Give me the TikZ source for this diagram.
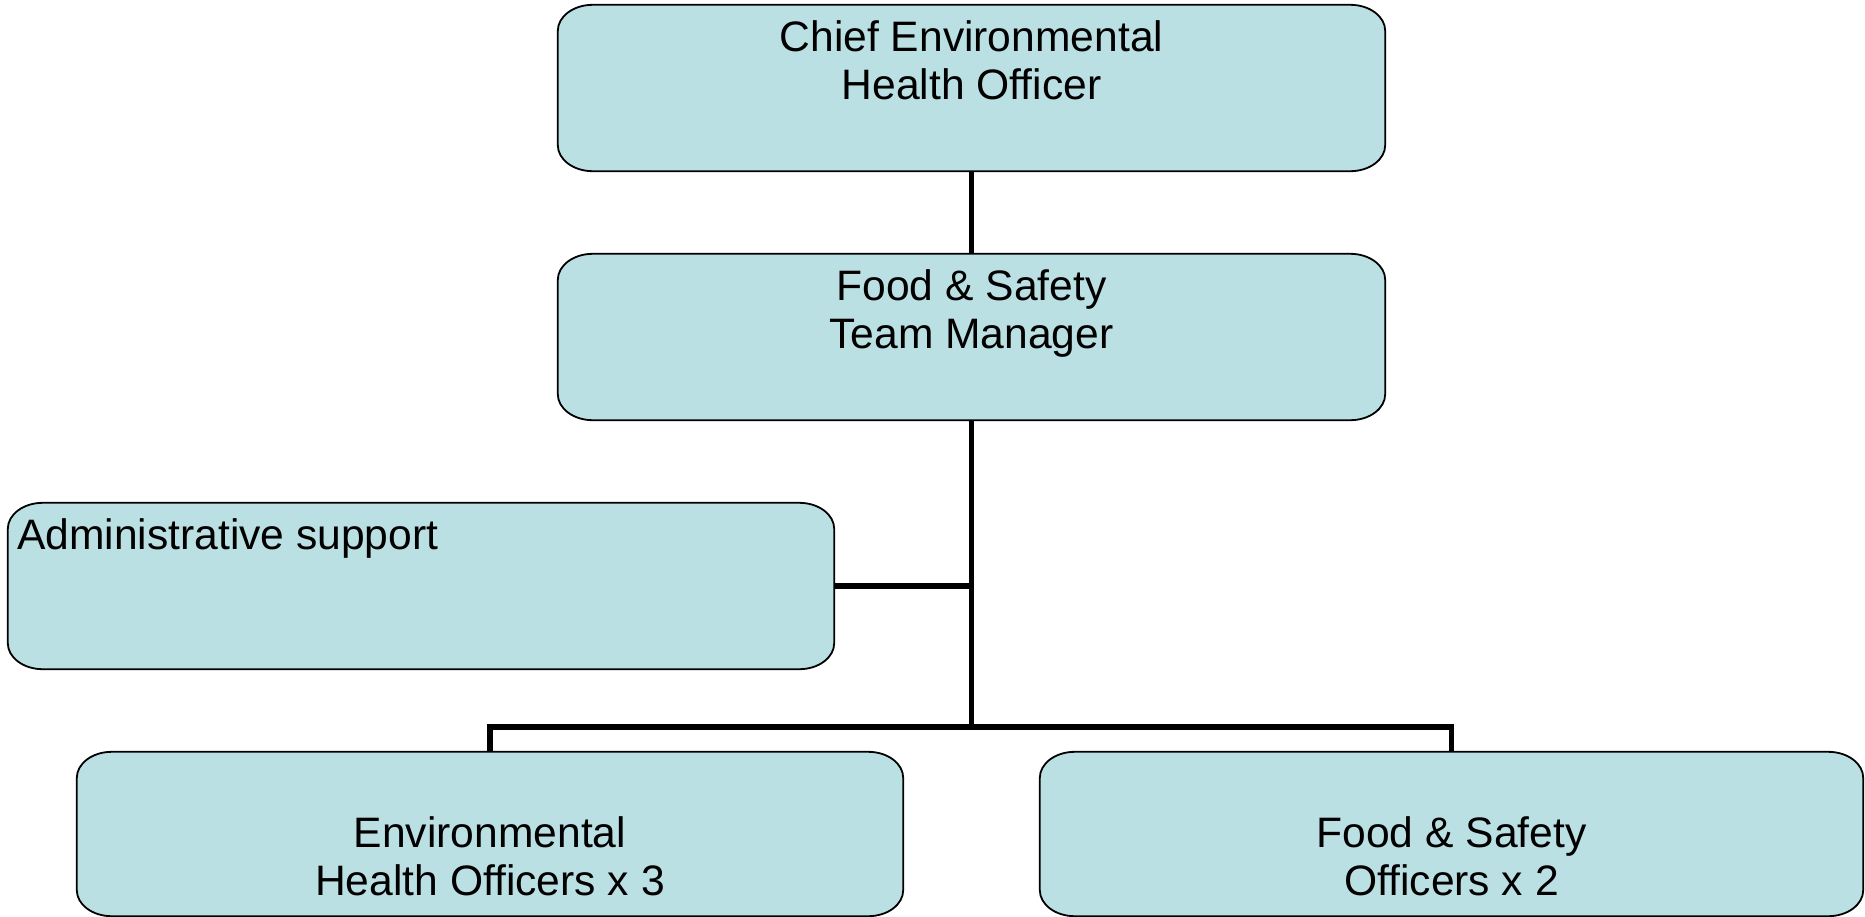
\documentclass[tikz,border=0pt]{standalone}
\usepackage{fontspec}
\setmainfont{Liberation Sans}
\definecolor{boxfill}{RGB}{187,224,227}
\newcommand\erx{35pt}
\newcommand\ery{26pt}
\newcommand\drawebox[1]{%
  \draw[boxline] ([xshift=\erx]#1.north west) -- ([xshift=-\erx]#1.north east)
    arc[start angle=90,end angle=0,x radius=\erx,y radius=\ery]
    -- ([yshift=\ery]#1.south east)
    arc[start angle=0,end angle=-90,x radius=\erx,y radius=\ery]
    -- ([xshift=\erx]#1.south west)
    arc[start angle=270,end angle=180,x radius=\erx,y radius=\ery]
    -- ([yshift=-\ery]#1.north west)
    arc[start angle=180,end angle=90,x radius=\erx,y radius=\ery] -- cycle;}
\tikzset{
  box/.style={rectangle, inner sep=0pt, draw=none},
  boxline/.style={draw=black, line width=1.8pt, fill=boxfill},
  txt/.style={inner sep=0pt, align=center, font=\fontsize{42.6pt}{47.5pt}\selectfont},
  conn/.style={draw=black, line width=5.5pt, line join=miter, line cap=butt}
}
\begin{document}
\begin{tikzpicture}[x=1pt,y=1pt]
\useasboundingbox (0,0) rectangle (1865,-916);
% boxes
\node[box, minimum width=827pt, minimum height=166pt] (chief) at (971.5,-88) {};
\node[box, minimum width=827pt, minimum height=166pt] (mgr) at (971.5,-337) {};
\node[box, minimum width=826pt, minimum height=166pt] (admin) at (421,-586) {};
\node[box, minimum width=826pt, minimum height=164pt] (eho) at (490,-834) {};
\node[box, minimum width=823pt, minimum height=164pt] (fso) at (1451.5,-834) {};
\drawebox{chief}
\drawebox{mgr}
\drawebox{admin}
\drawebox{eho}
\drawebox{fso}
% texts
\node[txt, anchor=north] (chieftxt) at ([yshift=-16pt]chief.north) {Chief Environmental\\Health Officer};
\node[txt, anchor=north] (mgrtxt) at ([yshift=-16pt]mgr.north) {Food \& Safety\\Team Manager};
\node[txt, anchor=north west, align=left] (admintxt) at ([xshift=9pt,yshift=-16pt]admin.north west) {Administrative support};
\node[txt, anchor=north] (ehotxt) at ([yshift=-65pt]eho.north) {Environmental\\Health Officers x 3};
\node[txt, anchor=north] (fsotxt) at ([yshift=-65pt]fso.north) {Food \& Safety\\Officers x 2};
% connectors
\coordinate (bus) at (971.5,-727);
\draw[conn] (chief.south) -- (mgr.north);
\draw[conn] (mgr.south) -- (bus);
\draw[conn] (admin.east) -- (admin.east -| mgr.south);
\draw[conn] (eho.north) |- (bus) -| (fso.north);
\end{tikzpicture}
\end{document}
